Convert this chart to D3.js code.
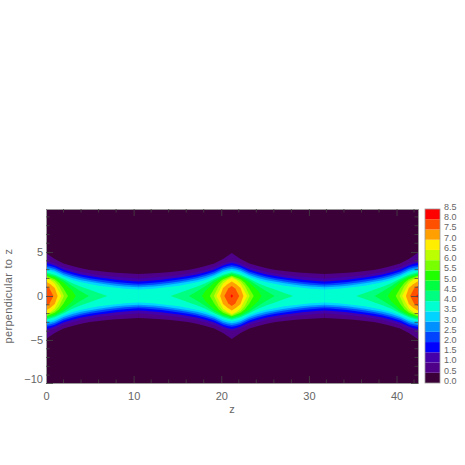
<!DOCTYPE html>
<html><head><meta charset="utf-8">
<script src="https://cdn.jsdelivr.net/npm/d3@7"></script>
<style>html,body{margin:0;padding:0;background:#fff}svg{display:block}text{font-family:"Liberation Sans",sans-serif;fill:#666}</style>
</head><body><svg id="c" width="465" height="465"></svg>
<script>
const levels = [0.5,1,1.5,2,2.5,3,3.5,4,4.5,5,5.5,6,6.5,7,7.5,8];
const barTicks = [0,0.5,1,1.5,2,2.5,3,3.5,4,4.5,5,5.5,6,6.5,7,7.5,8,8.5];
const bandColors = ["#3c0038","#4f0088","#4400aa","#0000ff","#0044ff","#0090ff","#00d4ff","#00ffd0","#00ff80","#00ff40","#20ff00","#78ff00","#bcff00","#ffee00","#ffa000","#ff5000","#ff0000"];
const peaks = [0,21.2,42.4];
// distance from a peak along z, per contour level
const levelDist = [
 [0,0.5,1,2,3,4,5,6,7,8,9,10,10.6],
 [0,0.5,1,2,3,4,5,6,7,8,9,10,10.6],
 [0,0.5,1,2,3,4,5,6,7,8,9,10,10.6],
 [0,0.5,1,2,3,4,5,6,7,8,9,10,10.6],
 [0,0.5,1,2,3,4,5,6,7,8,9,10,10.6],
 [0,0.5,1,2,3,4,5,6,7,8,9,10,10.6],
 [0,0.5,1,2,3,4,5,6,7,8,9,10,10.6],
 [0,1,2,3,4,5,6,7],
 [0,1,2,3,4,4.9],
 [0,1,2,3,3.4],
 [0,1,1.5,2,2.5],
 [0,1,1.5,2.05],
 [0,0.5,1,1.75],
 [0,0.5,1,1.33],
 [0,0.4,0.85],
 [0,0.15]
];
// half height across the ridge at those distances
const levelHalf = [
 [4.9,4.55,4.2,3.7,3.4,3.15,2.97,2.85,2.74,2.65,2.58,2.52,2.5],
 [3.95,3.88,3.72,3.3,2.98,2.74,2.56,2.4,2.28,2.18,2.1,2.03,2.0],
 [3.75,3.65,3.48,3.02,2.7,2.46,2.27,2.1,1.98,1.85,1.75,1.68,1.65],
 [3.5,3.42,3.26,2.8,2.47,2.22,2.03,1.88,1.74,1.6,1.5,1.42,1.4],
 [3.3,3.22,3.06,2.6,2.27,2.02,1.83,1.66,1.5,1.38,1.28,1.22,1.2],
 [3.1,3.02,2.87,2.4,2.05,1.8,1.61,1.45,1.3,1.18,1.08,1.02,1.0],
 [2.9,2.83,2.68,2.2,1.83,1.57,1.36,1.18,1.05,0.93,0.83,0.77,0.75],
 [2.7,2.42,1.95,1.45,1.05,0.7,0.33,0],
 [2.55,2.28,1.78,1.15,0.5,0],
 [2.4,2.12,1.55,0.6,0],
 [2.3,1.9,1.5,0.85,0],
 [2.2,1.7,1.15,0],
 [2.05,1.82,1.4,0],
 [1.65,1.35,0.9,0],
 [1.15,0.85,0],
 [0.2,0]
];
const xTicks = [0,10,20,30,40];
const yTicks = [-10,-5,0,5];
const xMinor = d3.range(0,43,2);
const yMinor = d3.range(-9,10,1);

const svg = d3.select("#c");
const L=46,R=418,T=209,B=383;
const x = d3.scaleLinear().domain([0,42.45]).range([L,R]);
const y = d3.scaleLinear().domain([-9.9,9.9]).range([B,T]).clamp(true);

svg.append("defs").append("clipPath").attr("id","pl").append("rect")
  .attr("x",L).attr("y",T).attr("width",R-L).attr("height",B-T);
const g = svg.append("g").attr("clip-path","url(#pl)");
g.append("rect").attr("x",L).attr("y",T).attr("width",R-L).attr("height",B-T).attr("fill",bandColors[0]);

levels.forEach((lv,i)=>{
  const pts = levelDist[i].map((d,j)=>[d,levelHalf[i][j]]);
  const sym = pts.slice().reverse().map(p=>[-p[0],p[1]]).concat(pts.slice(1));
  const area = d3.area().x(d=>x(d.z)).y0(d=>y(-d.h)).y1(d=>y(d.h));
  peaks.forEach(p=>{
    g.append("path").attr("fill",bandColors[i+1])
      .attr("d",area(sym.map(s=>({z:p+s[0],h:s[1]}))));
  });
});

const ink="#444";
function ax(axis,tr){
  const a=svg.append("g").attr("transform",tr).call(axis);
  a.select(".domain").attr("stroke","#999").attr("stroke-width",1);
  a.selectAll(".tick line").attr("stroke",ink).attr("stroke-width",0.8);
  a.selectAll("text").attr("fill","#666").style("font-size","11px").style("font-family","Liberation Sans");
  return a;
}
const bx=ax(d3.axisBottom(x).tickValues(xTicks).tickSize(-7).tickPadding(9).tickFormat(d3.format("d")),`translate(0,${B})`);
const tx=ax(d3.axisTop(x).tickValues(xTicks).tickSize(-7).tickFormat(""),`translate(0,${T})`);
const ly=ax(d3.axisLeft(y).tickValues(yTicks).tickSize(-7).tickPadding(3).tickFormat(d=>d<0?"\u2212"+(-d):d),`translate(${L},0)`);
ly.selectAll(".tick").filter(d=>d===-10).select("text").attr("dy","-0.05em");
const ry=ax(d3.axisRight(y).tickValues(yTicks).tickSize(-7).tickFormat(""),`translate(${R},0)`);
svg.append("g").selectAll("line").data(xMinor.filter(d=>!xTicks.includes(d))).join("line")
  .attr("x1",d=>x(d)).attr("x2",d=>x(d)).attr("y1",B).attr("y2",B-3.5).attr("stroke",ink).attr("stroke-width",.8);
svg.append("g").selectAll("line").data(xMinor.filter(d=>!xTicks.includes(d))).join("line")
  .attr("x1",d=>x(d)).attr("x2",d=>x(d)).attr("y1",T).attr("y2",T+3.5).attr("stroke",ink).attr("stroke-width",.8);
svg.append("g").selectAll("line").data(yMinor.filter(d=>!yTicks.includes(d))).join("line")
  .attr("x1",L).attr("x2",L+3.5).attr("y1",d=>y(d)).attr("y2",d=>y(d)).attr("stroke",ink).attr("stroke-width",.8);
svg.append("g").selectAll("line").data(yMinor.filter(d=>!yTicks.includes(d))).join("line")
  .attr("x1",R).attr("x2",R-3.5).attr("y1",d=>y(d)).attr("y2",d=>y(d)).attr("stroke",ink).attr("stroke-width",.8);

svg.append("text").attr("x",232).attr("y",413).attr("text-anchor","middle").style("font-size","11px").text("z");
svg.append("text").attr("transform",`translate(12,${296}) rotate(-90)`).attr("text-anchor","middle").style("font-size","11px").style("letter-spacing","0.3px").style("word-spacing","1px").text("perpendicular to z");

// colour bar
const cy = d3.scaleLinear().domain([0,8.5]).range([B,T]);
const bar = svg.append("g");
bandColors.forEach((c,i)=>{
  bar.append("rect").attr("x",425).attr("width",15).attr("y",cy((i+1)*0.5)).attr("height",cy(i*0.5)-cy((i+1)*0.5)).attr("fill",c);
});
bar.append("rect").attr("x",425).attr("y",T).attr("width",15).attr("height",B-T).attr("fill","none").attr("stroke","#999").attr("stroke-width",.8);
const ca=svg.append("g").attr("transform","translate(440,0)").call(d3.axisRight(cy).tickValues(barTicks).tickSize(0).tickPadding(4).tickFormat(d3.format(".1f")));
ca.select(".domain").remove();
ca.selectAll("text").attr("fill","#666").attr("dy","0.05em").style("font-size","9px");
</script></body></html>
